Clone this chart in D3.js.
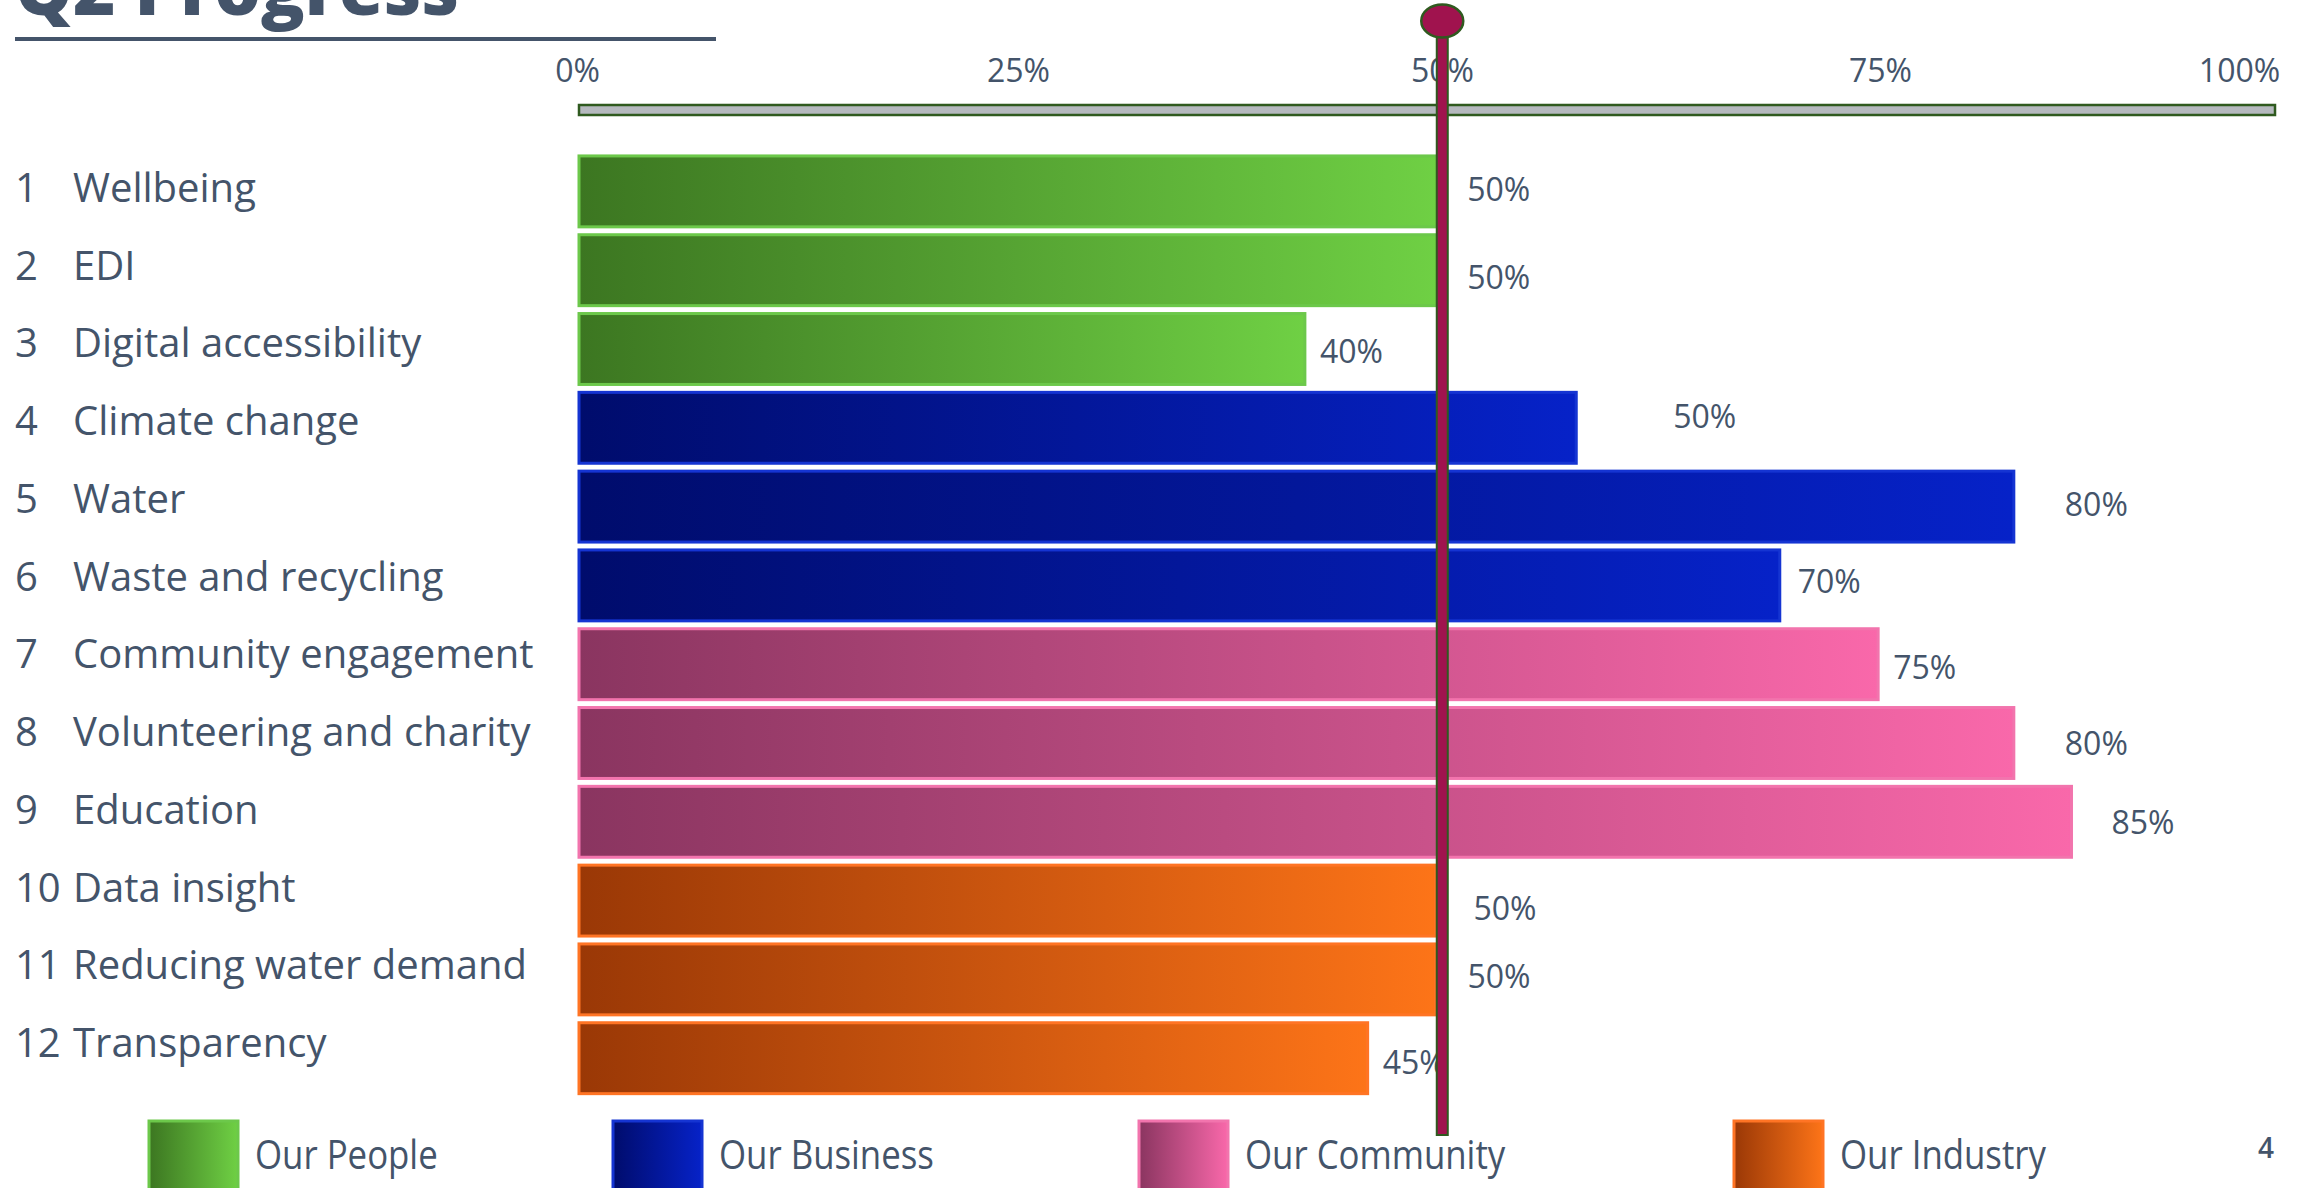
<!DOCTYPE html>
<html>
<head>
<meta charset="utf-8">
<script src="https://cdn.jsdelivr.net/npm/d3@7"></script>
<style>
  body { margin: 0; background: #fff; }
  svg { display: block; font-family: 'Open Sans', sans-serif; }
</style>
</head>
<body>
<div id="main"></div>
<script>
/// data ///

const title = 'Q2 Progress';

const categories = ['Wellbeing', 'EDI', 'Digital accessibility', 'Climate change', 'Water',
    'Waste and recycling', 'Community engagement', 'Volunteering and charity', 'Education',
    'Data insight', 'Reducing water demand', 'Transparency'];

// which pillar each row belongs to
const pillarOf = ['Our People', 'Our People', 'Our People', 'Our Business', 'Our Business',
    'Our Business', 'Our Community', 'Our Community', 'Our Community', 'Our Industry',
    'Our Industry', 'Our Industry'];

// bar lengths (percent of axis)
const progress = [50.6, 50.6, 42.8, 58.8, 84.6, 70.8, 76.6, 84.6, 88.0, 50.5, 50.5, 46.5];

// printed labels next to the bars
const valueLabels = ['50%', '50%', '40%', '50%', '80%', '70%', '75%', '80%', '85%', '50%', '50%', '45%'];

const pillars = ['Our People', 'Our Business', 'Our Community', 'Our Industry'];

const tickValues = [0, 25, 50, 75, 100];
const tickLabels = ['0%', '25%', '50%', '75%', '100%'];

const target = 50.9;       // red marker line
const pageNumber = '4';

/// layout ///

const w = 2310;
const h = 1188;
const textColor = '#44546a';

// gradient colours per pillar: dark (left), bright (right), outline
const palette = {
    'Our People':    ['#3c7621', '#6fd044', '#6cc84a'],
    'Our Business':  ['#000c6c', '#0622c8', '#1534d2'],
    'Our Community': ['#8a3560', '#f968aa', '#f274ad'],
    'Our Industry':  ['#9a3806', '#fd7418', '#ff7424']
};

// hand placed label offsets in the original slide [dx, dy]
const labelNudge = [[30, -2], [30, 7], [15, 2], [97, -11], [51, -2], [18, -4],
                    [15, 3], [51, 0], [40, 1], [38, 8], [32, -3], [15, 4]];
const tickNudge = [-2, 15, 15, 29, -36];
const legendLeft = [149, 613, 1139, 1734];   // swatches are not evenly spaced

const svg = d3.select('#main')
    .append('svg')
    .attr('width', w)
    .attr('height', h);

const x = d3.scaleLinear()
    .domain([0, 100])
    .range([579, 2275]);

const y = d3.scaleBand()
    .domain(d3.range(categories.length))
    .range([152, 1097.6])
    .paddingInner(0.1)
    .paddingOuter(0.05);

// row labels sit on their own slightly tighter grid
const yLabel = d3.scalePoint()
    .domain(d3.range(categories.length))
    .range([202, 1057]);

// gradients
const defs = svg.append('defs');
pillars.forEach((p, i) => {
    const g = defs.append('linearGradient')
        .attr('id', 'grad' + i)
        .attr('x1', 0).attr('x2', 1).attr('y1', 0).attr('y2', 0);
    g.append('stop').attr('offset', '0%').attr('stop-color', palette[p][0]);
    g.append('stop').attr('offset', '100%').attr('stop-color', palette[p][1]);
});
const gradOf = p => `url(#grad${pillars.indexOf(p)})`;

// title + underline (title runs off the top edge, as on the slide)
svg.append('text')
    .attr('x', 15)
    .attr('y', 15)
    .attr('fill', textColor)
    .attr('font-size', 72)
    .attr('font-weight', 800)
    .attr('textLength', 444)
    .attr('lengthAdjust', 'spacingAndGlyphs')
    .text(title);

svg.append('rect')
    .attr('x', 15).attr('y', 37)
    .attr('width', 701).attr('height', 4)
    .attr('fill', textColor);

// axis track
svg.append('rect')
    .attr('x', x(0))
    .attr('y', 105)
    .attr('width', x(100) - x(0))
    .attr('height', 10)
    .attr('fill', '#b5b9be')
    .attr('stroke', '#2f5a1f')
    .attr('stroke-width', 2.5);

// tick labels
const xAxis = d3.axisTop(x)
    .tickValues(tickValues)
    .tickFormat((d, i) => tickLabels[i])
    .tickSize(0)
    .tickPadding(0);

const axisG = svg.append('g')
    .attr('transform', 'translate(0,82)')
    .call(xAxis);
axisG.select('.domain').remove();
axisG.selectAll('text')
    .attr('fill', textColor)
    .attr('font-family', "'Open Sans', sans-serif")
    .attr('font-size', 32)
    .attr('font-weight', 400)
    .attr('dx', (d, i) => tickNudge[i]);

// bars
svg.append('g')
    .selectAll('rect')
    .data(progress)
    .enter()
    .append('rect')
    .attr('x', x(0))
    .attr('y', (d, i) => y(i))
    .attr('width', d => x(d) - x(0))
    .attr('height', y.bandwidth())
    .attr('fill', (d, i) => gradOf(pillarOf[i]))
    .attr('stroke', (d, i) => palette[pillarOf[i]][2])
    .attr('stroke-width', 3);

// value labels
svg.append('g')
    .selectAll('text')
    .data(progress)
    .enter()
    .append('text')
    .attr('x', (d, i) => x(d) + labelNudge[i][0])
    .attr('y', (d, i) => y(i) + y.bandwidth() / 2 + labelNudge[i][1] + 11.5)
    .attr('fill', textColor)
    .attr('font-size', 32)
    .text((d, i) => valueLabels[i]);

// row labels
const rows = svg.append('g')
    .selectAll('g')
    .data(categories)
    .enter()
    .append('g')
    .attr('transform', (d, i) => `translate(0,${yLabel(i)})`)
    .attr('fill', textColor)
    .attr('font-size', 40);

rows.append('text').attr('x', 15).text((d, i) => i + 1);
rows.append('text').attr('x', 73).text(d => d);

// legend
const legend = svg.append('g')
    .selectAll('g')
    .data(pillars)
    .enter()
    .append('g')
    .attr('transform', (d, i) => `translate(${legendLeft[i]},1121)`);

legend.append('rect')
    .attr('width', 89)
    .attr('height', 90)
    .attr('fill', d => gradOf(d))
    .attr('stroke', d => palette[d][2])
    .attr('stroke-width', 3);

legend.append('text')
    .attr('transform', 'translate(106,48) scale(0.87,1)')
    .attr('fill', textColor)
    .attr('font-size', 40)
    .attr('font-weight', 400)
    .text(d => d);

// target marker, drawn on top
svg.append('rect')
    .attr('x', x(target) - 5.5)
    .attr('y', 34)
    .attr('width', 11)
    .attr('height', 1135 - 34)
    .attr('fill', '#a0134e')
    .attr('stroke', '#2f5a1f')
    .attr('stroke-width', 2);

svg.append('ellipse')
    .attr('cx', x(target))
    .attr('cy', 21)
    .attr('rx', 21)
    .attr('ry', 16.5)
    .attr('fill', '#a0134e')
    .attr('stroke', '#2f5a1f')
    .attr('stroke-width', 2.5);

// page number
svg.append('text')
    .attr('x', 2274)
    .attr('y', 1158)
    .attr('text-anchor', 'end')
    .attr('fill', textColor)
    .attr('font-size', 28)
    .attr('font-weight', 600)
    .text(pageNumber);
</script>
</body>
</html>
